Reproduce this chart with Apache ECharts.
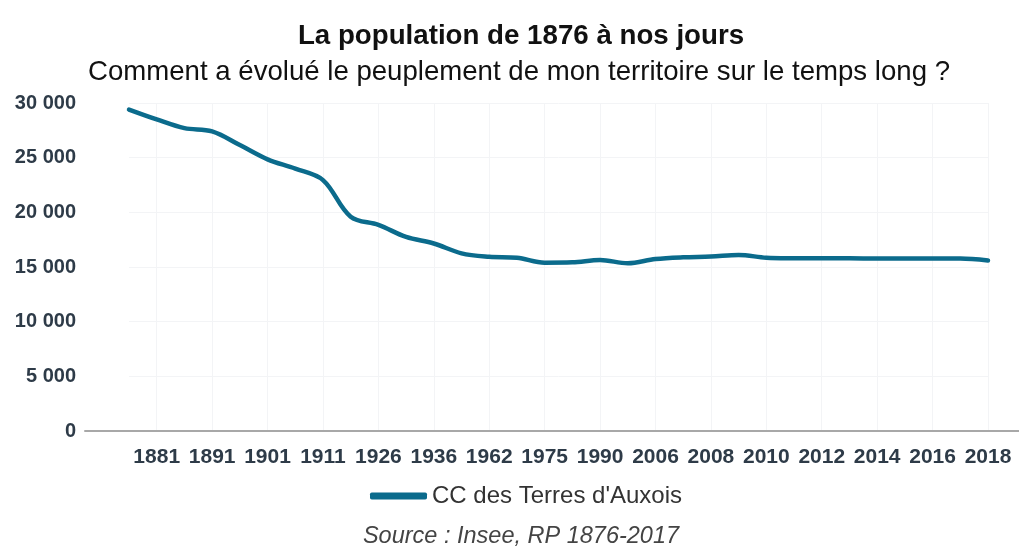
<!DOCTYPE html>
<html>
<head>
<meta charset="utf-8">
<script src="https://cdn.jsdelivr.net/npm/echarts@6/dist/echarts.min.js"></script>
<style>
html,body{margin:0;padding:0;background:#fff;}
#chart{width:1019px;height:551px;}
</style>
</head>
<body>
<div id="chart"></div>
<script>
const titleText = "La population de 1876 à nos jours";
const subtitleText = "Comment a évolué le peuplement de mon territoire sur le temps long ?";
const sourceText = "Source : Insee, RP 1876-2017";
const seriesName = "CC des Terres d'Auxois";
const years = ["1876","1881","1886","1891","1896","1901","1906","1911","1921","1926","1931","1936","1954","1962","1968","1975","1982","1990","1999","2006","2007","2008","2009","2010","2011","2012","2013","2014","2015","2016","2017","2018"];
const population = [29400,28500,27700,27400,26150,24850,24000,22950,19600,18850,17750,17150,16250,15940,15850,15400,15430,15640,15340,15730,15890,15950,16100,15850,15800,15790,15790,15780,15780,15780,15770,15600];
const yTicks = {min:0, max:30000, interval:5000};

const FONT = "'Liberation Sans', Arial, sans-serif";
const chart = echarts.init(document.getElementById('chart'), null, {renderer:'canvas'});
const oddIdx = function(i){ return i % 2 === 1; };
const fmt = function(v){ return String(v).replace(/\B(?=(\d{3})+(?!\d))/g, ' '); };

chart.setOption({
  animation:false,
  backgroundColor:'#ffffff',
  title:[
    {text:titleText, left:516, textAlign:'center', top:17,
     textStyle:{fontFamily:FONT, fontSize:27.7, fontWeight:'bold', color:'#111'}},
    {text:subtitleText, left:514, textAlign:'center', top:53,
     textStyle:{fontFamily:FONT, fontSize:27.6, fontWeight:'normal', color:'#111'}},
    {text:sourceText, left:516, textAlign:'center', top:520,
     textStyle:{fontFamily:FONT, fontSize:23.5, fontStyle:'italic', fontWeight:'normal', color:'#444'}}
  ],
  legend:{
    data:[seriesName], left:365, top:479,
    icon:'roundRect', itemWidth:57, itemHeight:7, itemGap:10,
    textStyle:{fontFamily:FONT, fontSize:24, color:'#333'}
  },
  grid:[
    {left:129, right:31, top:103, bottom:120, containLabel:false},
    {left:85, right:0, top:103, bottom:120, containLabel:false}
  ],
  xAxis:[
    {type:'category', data:years, boundaryGap:false, gridIndex:0,
     axisLine:{show:false}, axisTick:{show:false},
     axisLabel:{interval:oddIdx, margin:16, fontFamily:FONT, fontSize:21, fontWeight:'bold', color:'#2e3b48'},
     splitLine:{show:true, interval:oddIdx, lineStyle:{color:'#f3f4f6', width:1}}},
    {type:'value', gridIndex:1, min:0, max:1,
     axisLine:{show:true, lineStyle:{color:'#a8a8a8', width:2}}, axisTick:{show:false},
     axisLabel:{show:false}, splitLine:{show:false}}
  ],
  yAxis:[
    {type:'value', gridIndex:0, min:yTicks.min, max:yTicks.max, interval:yTicks.interval,
     axisLine:{show:false}, axisTick:{show:false},
     axisLabel:{margin:53, formatter:fmt, fontFamily:FONT, fontSize:20, fontWeight:'bold', color:'#2e3b48'},
     splitLine:{show:true, lineStyle:{color:'#f3f4f6', width:1}}},
    {type:'value', gridIndex:1, min:0, max:1, show:false, splitLine:{show:false}}
  ],
  series:[
    {name:seriesName, type:'line', data:population, xAxisIndex:0, yAxisIndex:0,
     smooth:0.35, showSymbol:false, symbol:'none',
     lineStyle:{color:'#0b6b8c', width:4.5, cap:'round', join:'round'},
     itemStyle:{color:'#0b6b8c'}}
  ]
});
</script>
</body>
</html>
